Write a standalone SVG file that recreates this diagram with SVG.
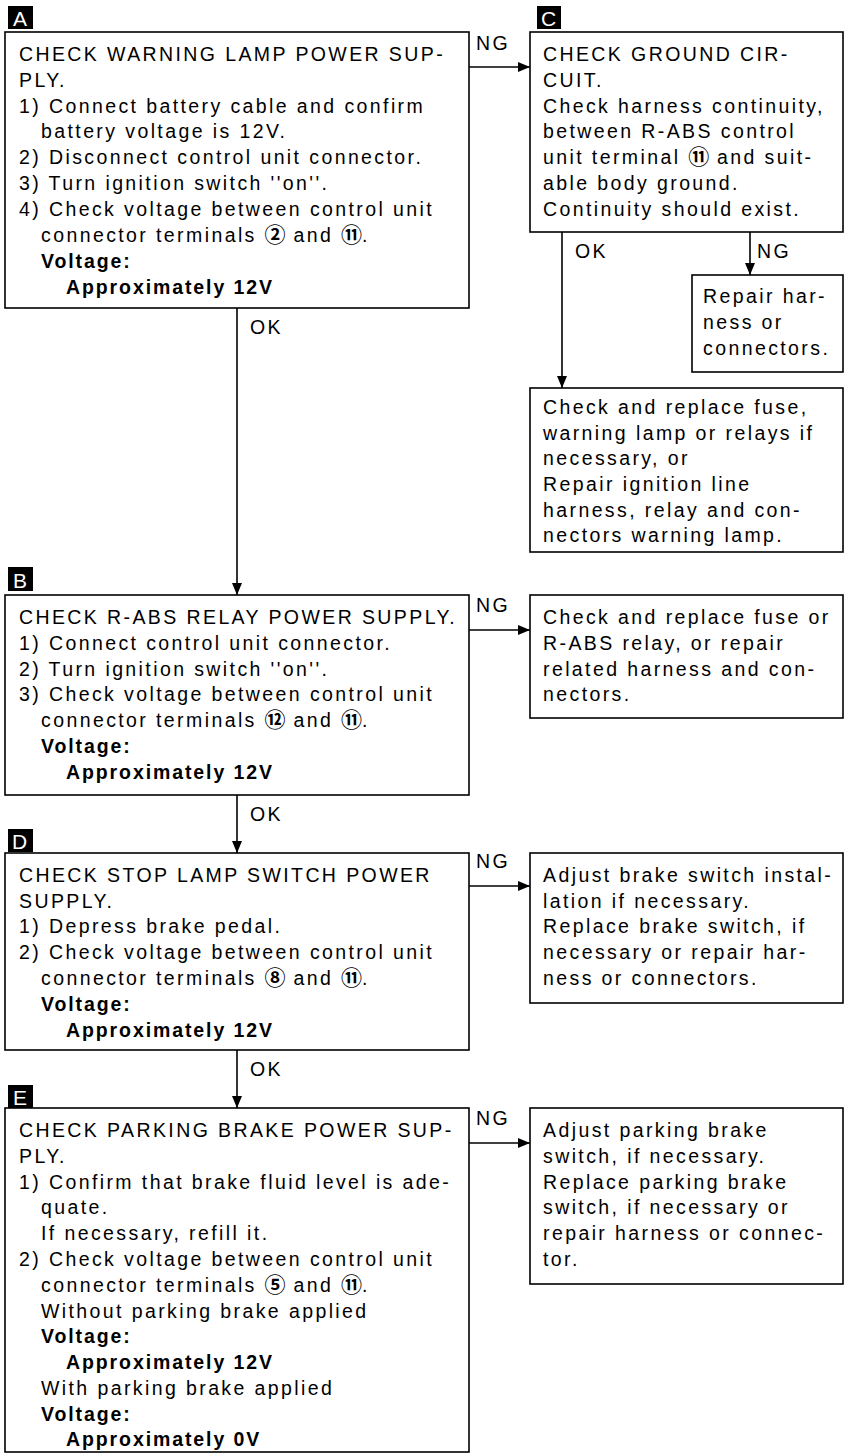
<svg xmlns="http://www.w3.org/2000/svg" width="850" height="1456" viewBox="0 0 850 1456">
<style>
text{font-family:"Liberation Sans",Arial,sans-serif;font-size:19.5px;fill:#000;letter-spacing:2.4px}
.b{font-weight:bold;letter-spacing:1.9px}
.c{font-family:"Noto Sans CJK JP","DejaVu Sans",sans-serif;font-weight:bold;font-size:21px;letter-spacing:0}
.box{fill:#fff;stroke:#000;stroke-width:1.6}
.bad{fill:#000}
.bl{font-family:"Liberation Sans",Arial,sans-serif;font-size:21px;fill:#fff;letter-spacing:0}
.ln{fill:none;stroke:#000;stroke-width:1.6}
</style>
<defs>
<marker id="ah" viewBox="0 0 12 10" refX="12" refY="5" markerWidth="12" markerHeight="10" markerUnits="userSpaceOnUse" orient="auto">
<path d="M0,0 L12,5 L0,10 Z" fill="#000"/>
</marker>
</defs>
<rect width="850" height="1456" fill="#fff"/>

<g id="connectors">
<path class="ln" d="M469,67 H530" marker-end="url(#ah)"/>
<path class="ln" d="M237,308 V595" marker-end="url(#ah)"/>
<path class="ln" d="M562,232 V388" marker-end="url(#ah)"/>
<path class="ln" d="M750,232 V275" marker-end="url(#ah)"/>
<path class="ln" d="M469,630 H530" marker-end="url(#ah)"/>
<path class="ln" d="M237,795 V853" marker-end="url(#ah)"/>
<path class="ln" d="M469,886 H530" marker-end="url(#ah)"/>
<path class="ln" d="M237,1050 V1108" marker-end="url(#ah)"/>
<path class="ln" d="M469,1143 H530" marker-end="url(#ah)"/>
<text x="476" y="50">NG</text>
<text x="250" y="334">OK</text>
<text x="575" y="258">OK</text>
<text x="757" y="258">NG</text>
<text x="476" y="612">NG</text>
<text x="250" y="821">OK</text>
<text x="476" y="868">NG</text>
<text x="250" y="1076">OK</text>
<text x="476" y="1125">NG</text>
</g>

<g id="nodeA">
<rect class="bad" x="8" y="6" width="25" height="23"/>
<text class="bl" x="13" y="26">A</text>
<rect class="box" x="5" y="32" width="464" height="276"/>
<text x="19" y="61">CHECK WARNING LAMP POWER SUP-</text>
<text x="19" y="87">PLY.</text>
<text x="19" y="113">1) Connect battery cable and confirm</text>
<text x="41" y="138">battery voltage is 12V.</text>
<text x="19" y="164">2) Disconnect control unit connector.</text>
<text x="19" y="190">3) Turn ignition switch ''on''.</text>
<text x="19" y="216">4) Check voltage between control unit</text>
<text x="41" y="242">connector terminals <tspan class="c">②</tspan> and <tspan class="c">⑪</tspan>.</text>
<text class="b" x="41" y="268">Voltage:</text>
<text class="b" x="66" y="294">Approximately 12V</text>
</g>

<g id="nodeC">
<rect class="bad" x="537" y="6" width="24" height="23"/>
<text class="bl" x="541" y="26">C</text>
<rect class="box" x="530" y="32" width="313" height="200"/>
<text x="543" y="61">CHECK GROUND CIR-</text>
<text x="543" y="87">CUIT.</text>
<text x="543" y="113">Check harness continuity,</text>
<text x="543" y="138">between R-ABS control</text>
<text x="543" y="164">unit terminal <tspan class="c">⑪</tspan> and suit-</text>
<text x="543" y="190">able body ground.</text>
<text x="543" y="216">Continuity should exist.</text>
</g>

<g id="nodeRepair">
<rect class="box" x="692" y="275" width="151" height="97"/>
<text x="703" y="303">Repair har-</text>
<text x="703" y="329">ness or</text>
<text x="703" y="355">connectors.</text>
</g>

<g id="nodeFuse">
<rect class="box" x="530" y="388" width="313" height="164"/>
<text x="543" y="414">Check and replace fuse,</text>
<text x="543" y="440">warning lamp or relays if</text>
<text x="543" y="465">necessary, or</text>
<text x="543" y="491">Repair ignition line</text>
<text x="543" y="517">harness, relay and con-</text>
<text x="543" y="542">nectors warning lamp.</text>
</g>

<g id="nodeB">
<rect class="bad" x="8" y="567" width="25" height="24"/>
<text class="bl" x="13" y="588">B</text>
<rect class="box" x="5" y="595" width="464" height="200"/>
<text x="19" y="624">CHECK R-ABS RELAY POWER SUPPLY.</text>
<text x="19" y="650">1) Connect control unit connector.</text>
<text x="19" y="676">2) Turn ignition switch ''on''.</text>
<text x="19" y="701">3) Check voltage between control unit</text>
<text x="41" y="727">connector terminals <tspan class="c">⑫</tspan> and <tspan class="c">⑪</tspan>.</text>
<text class="b" x="41" y="753">Voltage:</text>
<text class="b" x="66" y="779">Approximately 12V</text>
</g>

<g id="nodeBng">
<rect class="box" x="530" y="595" width="313" height="123"/>
<text x="543" y="624">Check and replace fuse or</text>
<text x="543" y="650">R-ABS relay, or repair</text>
<text x="543" y="676">related harness and con-</text>
<text x="543" y="701">nectors.</text>
</g>

<g id="nodeD">
<rect class="bad" x="8" y="829" width="25" height="23"/>
<text class="bl" x="12" y="849">D</text>
<rect class="box" x="5" y="853" width="464" height="197"/>
<text x="19" y="882">CHECK STOP LAMP SWITCH POWER</text>
<text x="19" y="908">SUPPLY.</text>
<text x="19" y="933">1) Depress brake pedal.</text>
<text x="19" y="959">2) Check voltage between control unit</text>
<text x="41" y="985">connector terminals <tspan class="c">⑧</tspan> and <tspan class="c">⑪</tspan>.</text>
<text class="b" x="41" y="1011">Voltage:</text>
<text class="b" x="66" y="1037">Approximately 12V</text>
</g>

<g id="nodeDng">
<rect class="box" x="530" y="853" width="313" height="150"/>
<text x="543" y="882">Adjust brake switch instal-</text>
<text x="543" y="908">lation if necessary.</text>
<text x="543" y="933">Replace brake switch, if</text>
<text x="543" y="959">necessary or repair har-</text>
<text x="543" y="985">ness or connectors.</text>
</g>

<g id="nodeE">
<rect class="bad" x="8" y="1085" width="25" height="23"/>
<text class="bl" x="13" y="1105">E</text>
<rect class="box" x="5" y="1108" width="464" height="344"/>
<text x="19" y="1137">CHECK PARKING BRAKE POWER SUP-</text>
<text x="19" y="1163">PLY.</text>
<text x="19" y="1189">1) Confirm that brake fluid level is ade-</text>
<text x="41" y="1214">quate.</text>
<text x="41" y="1240">If necessary, refill it.</text>
<text x="19" y="1266">2) Check voltage between control unit</text>
<text x="41" y="1292">connector terminals <tspan class="c">⑤</tspan> and <tspan class="c">⑪</tspan>.</text>
<text x="41" y="1318">Without parking brake applied</text>
<text class="b" x="41" y="1343">Voltage:</text>
<text class="b" x="66" y="1369">Approximately 12V</text>
<text x="41" y="1395">With parking brake applied</text>
<text class="b" x="41" y="1421">Voltage:</text>
<text class="b" x="66" y="1446">Approximately 0V</text>
</g>

<g id="nodeEng">
<rect class="box" x="530" y="1108" width="313" height="176"/>
<text x="543" y="1137">Adjust parking brake</text>
<text x="543" y="1163">switch, if necessary.</text>
<text x="543" y="1189">Replace parking brake</text>
<text x="543" y="1214">switch, if necessary or</text>
<text x="543" y="1240">repair harness or connec-</text>
<text x="543" y="1266">tor.</text>
</g>
</svg>
